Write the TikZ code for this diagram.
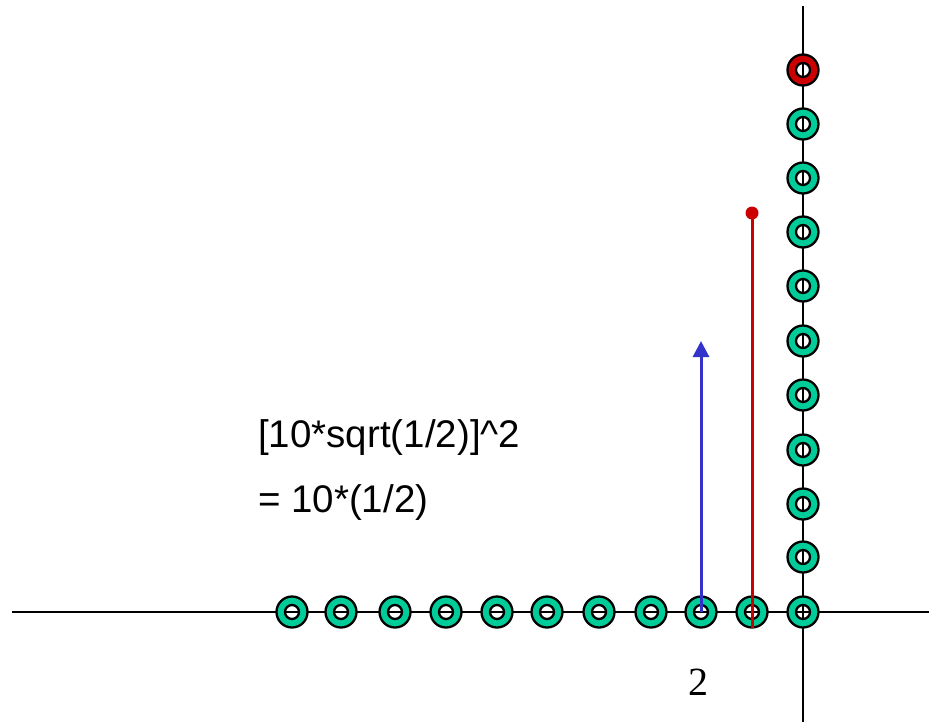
\documentclass[tikz,border=0pt]{standalone}
\usepackage{fontspec}
\setmainfont{Liberation Sans}
\newfontfamily\digitfont{Liberation Serif}
\usetikzlibrary{arrows.meta}
\definecolor{ringgreen}{HTML}{00CC99}
\definecolor{ringred}{HTML}{CC0000}
\definecolor{arrowblue}{HTML}{3333CC}
\tikzset{
  axisline/.style={black, line width=2pt},
  ringedge/.style={black, line width=2.3pt},
  bluearrow/.style={arrowblue, line width=3pt, -{Triangle[width=16pt,length=16pt]}},
  redline/.style={ringred, line width=3pt},
  formula/.style={anchor=base west, inner sep=0pt, font=\fontsize{38.5}{46}\selectfont},
}
\newcommand{\drawring}[2]{%
  \fill[#2, even odd rule] (#1) circle[radius=15.5pt] (#1) circle[radius=7pt];
  \draw[ringedge] (#1) circle[radius=15.5pt] (#1) circle[radius=7pt];
}
\begin{document}
\begin{tikzpicture}[x=1pt,y=-1pt]
\useasboundingbox (0,0) rectangle (929,726);
% axes
\coordinate (hl) at (12,612);
\coordinate (hr) at (929,612);
\coordinate (vt) at (803,6);
\coordinate (vb) at (803,722);
\draw[axisline] (hl) -- (hr);
\draw[axisline] (vt) -- (vb);
% ring positions
\foreach \x [count=\i] in {292,341,395,446,497,547,599,651,701,752,803}
  \coordinate (h\i) at (\x,612);
\foreach \y [count=\i] in {557,504,450,395,341,286,232,178,124,70}
  \coordinate (v\i) at (803,\y);
\foreach \i in {1,...,11} { \drawring{h\i}{ringgreen} }
\foreach \i in {1,...,9} { \drawring{v\i}{ringgreen} }
\drawring{v10}{ringred}
% arrows
\coordinate (bluetip) at (701,341);
\draw[bluearrow] (h9) -- (bluetip);
\coordinate (redtop) at (752,213);
\draw[redline] (redtop) -- ([yshift=-16pt]h10);
\fill[ringred] (redtop) circle[radius=6.5pt];
% texts
\node[formula] (f1) at (258,447) {[10*sqrt(1/2)]\^{}2};
\node[formula] (f2) at (258,512) {= 10*(1/2)};
\node[anchor=base, inner sep=0pt, font=\digitfont\fontsize{40}{48}\selectfont] (two) at (698,695) {2};
\end{tikzpicture}
\end{document}
